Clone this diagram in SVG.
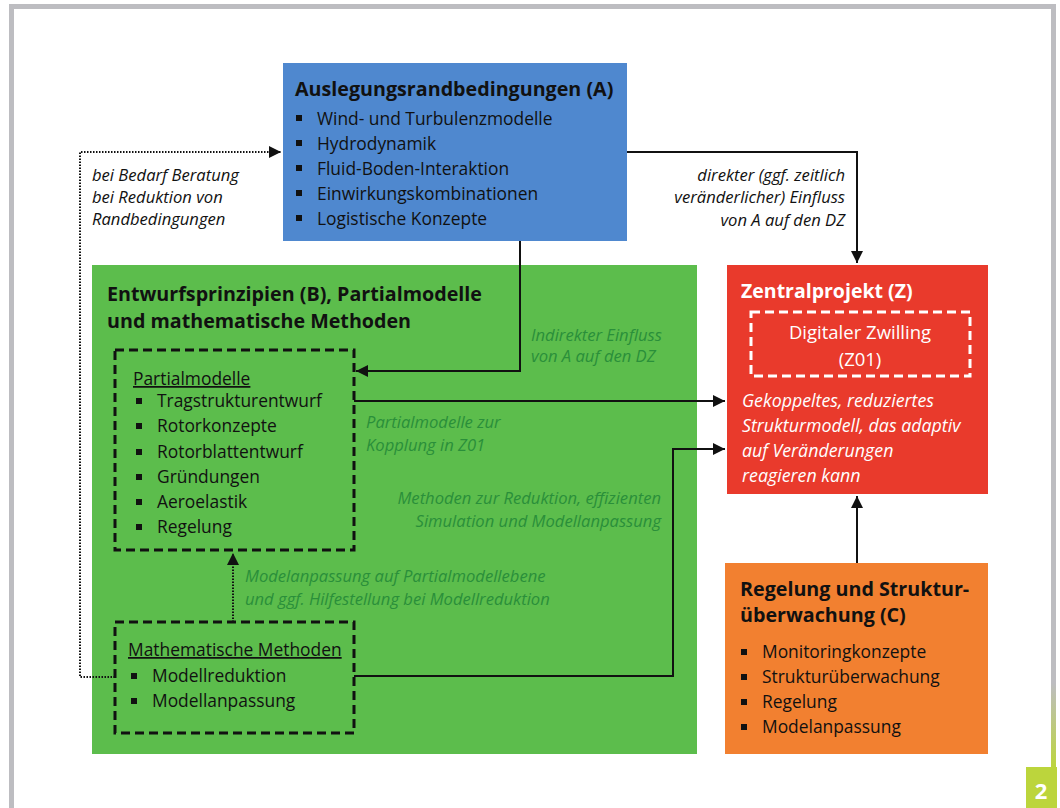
<svg xmlns="http://www.w3.org/2000/svg" width="1060" height="808" viewBox="0 0 1060 808">
<defs>
<style>
text{font-family:"Open Sans","Noto Sans","Liberation Sans",sans-serif;}
.t{font-size:19.7px;font-weight:bold;fill:#111;}
.b{font-size:17.4px;fill:#111;}
.i{font-size:16.6px;font-style:italic;fill:#111;}
.g{font-size:16.6px;font-style:italic;fill:#2a8f3a;}
.w{font-size:17.8px;font-style:italic;fill:#fff;}
.wt{font-size:19.5px;font-weight:bold;fill:#fff;}
.dash{fill:none;stroke:#111;stroke-width:3;stroke-dasharray:9 5;}
.con{fill:none;stroke:#111;stroke-width:2;}
.dot{fill:none;stroke:#111;stroke-width:2;stroke-dasharray:1.5 1.5;}
</style>
<marker id="ah" viewBox="0 0 10 10" refX="10" refY="5" markerWidth="6" markerHeight="6" orient="auto" markerUnits="strokeWidth"><path d="M0,0L10,5L0,10z" fill="#111"/></marker>
<linearGradient id="fade" x1="0" y1="0" x2="0" y2="1"><stop offset="0" stop-color="#bdbdc1"/><stop offset="1" stop-color="#bcd53c"/></linearGradient>
</defs>
<rect width="1060" height="808" fill="#fff"/>
<g id="frame">
<rect x="9" y="4" width="1047" height="5" fill="#bdbdc1"/>
<rect x="9" y="4" width="5" height="804" fill="#bdbdc1"/>
<rect x="1051" y="4" width="5" height="680" fill="#bdbdc1"/>
<rect x="1051" y="683" width="5" height="85" fill="url(#fade)"/>
<rect x="1026" y="767" width="31" height="41" fill="#bcd53c"/>
<text x="1041" y="799" text-anchor="middle" style="font-size:22px;font-weight:bold;fill:#fff">2</text>
</g>
<g id="nodeB">
<rect x="92" y="265" width="605" height="489" fill="#5cbd4c"/>
<text class="t" x="107" y="301">Entwurfsprinzipien (B), Partialmodelle</text>
<text class="t" x="107" y="328">und mathematische Methoden</text>
</g>
<g id="nodeA">
<rect x="283" y="63" width="344" height="178" fill="#4f88cf"/>
<text class="t" x="295" y="96">Auslegungsrandbedingungen (A)</text>
<rect x="296" y="115" width="6" height="6" fill="#111"/><text class="b" x="317" y="125">Wind- und Turbulenzmodelle</text>
<rect x="296" y="140" width="6" height="6" fill="#111"/><text class="b" x="317" y="150">Hydrodynamik</text>
<rect x="296" y="165" width="6" height="6" fill="#111"/><text class="b" x="317" y="175">Fluid-Boden-Interaktion</text>
<rect x="296" y="190" width="6" height="6" fill="#111"/><text class="b" x="317" y="200">Einwirkungskombinationen</text>
<rect x="296" y="215" width="6" height="6" fill="#111"/><text class="b" x="317" y="225">Logistische Konzepte</text>
</g>
<g id="nodePartial">
<rect class="dash" x="115" y="350" width="239" height="200"/>
<text class="b" x="133" y="385" text-decoration="underline">Partialmodelle</text>
<rect x="136" y="398" width="6" height="6" fill="#111"/><text class="b" x="157" y="407">Tragstrukturentwurf</text>
<rect x="136" y="423" width="6" height="6" fill="#111"/><text class="b" x="157" y="432">Rotorkonzepte</text>
<rect x="136" y="449" width="6" height="6" fill="#111"/><text class="b" x="157" y="458">Rotorblattentwurf</text>
<rect x="136" y="474" width="6" height="6" fill="#111"/><text class="b" x="157" y="483">Gründungen</text>
<rect x="136" y="499" width="6" height="6" fill="#111"/><text class="b" x="157" y="508">Aeroelastik</text>
<rect x="136" y="524" width="6" height="6" fill="#111"/><text class="b" x="157" y="533">Regelung</text>
</g>
<g id="nodeMath">
<rect class="dash" x="115" y="622" width="239" height="111"/>
<text class="b" x="128" y="656" text-decoration="underline">Mathematische Methoden</text>
<rect x="131" y="673" width="6" height="6" fill="#111"/><text class="b" x="152" y="682">Modellreduktion</text>
<rect x="131" y="698" width="6" height="6" fill="#111"/><text class="b" x="152" y="707">Modellanpassung</text>
</g>
<g id="nodeZ">
<rect x="727" y="265" width="261" height="229" fill="#e93a2c"/>
<text class="wt" x="741" y="298">Zentralprojekt (Z)</text>
<rect x="751" y="312" width="219" height="64" fill="none" stroke="#fff" stroke-width="3" stroke-dasharray="9 5"/>
<text x="860" y="339" text-anchor="middle" style="font-size:18.5px;fill:#fff">Digitaler Zwilling</text>
<text x="860" y="366" text-anchor="middle" style="font-size:18.5px;fill:#fff">(Z01)</text>
<text class="w" x="742" y="407">Gekoppeltes, reduziertes</text>
<text class="w" x="742" y="432">Strukturmodell, das adaptiv</text>
<text class="w" x="742" y="457">auf Veränderungen</text>
<text class="w" x="742" y="482">reagieren kann</text>
</g>
<g id="nodeC">
<rect x="725" y="563" width="263" height="191" fill="#f28030"/>
<text class="t" x="740" y="596">Regelung und Struktur-</text>
<text class="t" x="740" y="622">überwachung (C)</text>
<rect x="741" y="649" width="6" height="6" fill="#111"/><text class="b" x="762" y="658">Monitoringkonzepte</text>
<rect x="741" y="674" width="6" height="6" fill="#111"/><text class="b" x="762" y="683">Strukturüberwachung</text>
<rect x="741" y="699" width="6" height="6" fill="#111"/><text class="b" x="762" y="708">Regelung</text>
<rect x="741" y="724" width="6" height="6" fill="#111"/><text class="b" x="762" y="733">Modelanpassung</text>
</g>
<g id="connectors">
<path class="dot" d="M115,677H80V152H281" marker-end="url(#ah)"/>
<path class="dot" d="M233,622V553" marker-end="url(#ah)"/>
<path class="con" d="M627,152H857V263" marker-end="url(#ah)"/>
<path class="con" d="M520,241V371H356" marker-end="url(#ah)"/>
<path class="con" d="M354,401H725" marker-end="url(#ah)"/>
<path class="con" d="M354,676H673V449H725" marker-end="url(#ah)"/>
<path class="con" d="M857,563V496" marker-end="url(#ah)"/>
</g>
<g id="labels">
<text class="i" x="92" y="181">bei Bedarf Beratung</text>
<text class="i" x="92" y="203">bei Reduktion von</text>
<text class="i" x="92" y="225">Randbedingungen</text>
<text class="i" x="845" y="181" text-anchor="end">direkter (ggf. zeitlich</text>
<text class="i" x="845" y="203" text-anchor="end">veränderlicher) Einfluss</text>
<text class="i" x="845" y="226" text-anchor="end">von A auf den DZ</text>
<text class="g" x="531" y="341">Indirekter Einfluss</text>
<text class="g" x="531" y="362">von A auf den DZ</text>
<text class="g" x="366" y="428">Partialmodelle zur</text>
<text class="g" x="366" y="451">Kopplung in Z01</text>
<text class="g" x="661" y="504" text-anchor="end">Methoden zur Reduktion, effizienten</text>
<text class="g" x="661" y="527" text-anchor="end">Simulation und Modellanpassung</text>
<text class="g" x="245" y="582">Modelanpassung auf Partialmodellebene</text>
<text class="g" x="245" y="605">und ggf. Hilfestellung bei Modellreduktion</text>
</g>
</svg>
